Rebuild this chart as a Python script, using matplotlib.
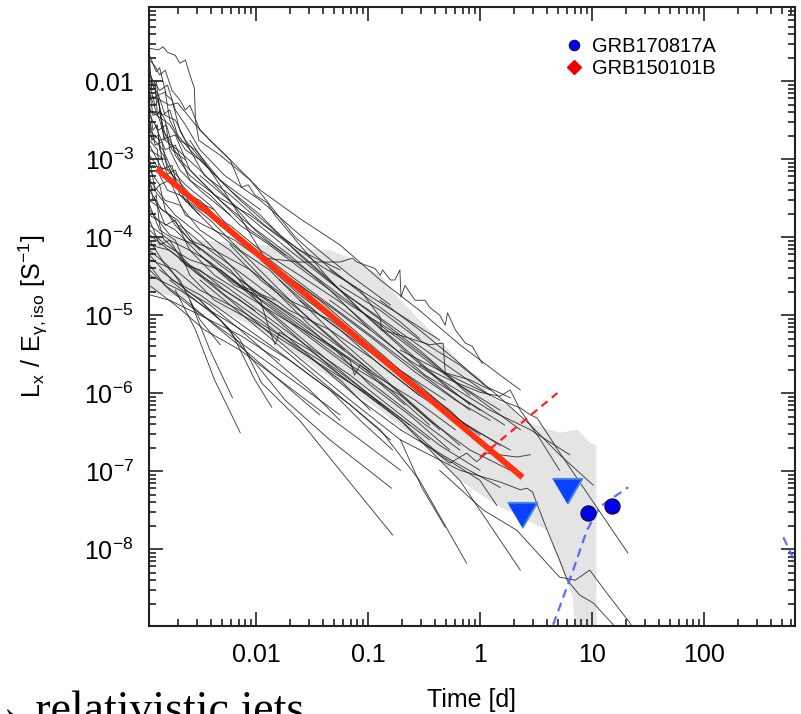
import matplotlib.pyplot as plt
from matplotlib.lines import Line2D
from matplotlib.ticker import LogLocator, NullFormatter
import numpy as np

plt.rcParams["font.family"] = ["Liberation Sans", "DejaVu Sans"]
plt.rcParams["mathtext.default"] = "regular"

# X-ray afterglows of the short GRB sample, (log10 t[d], log10 Lx/Eiso)
lc01 = [(-2.59, -2.76), (-2.23, -3.53), (-1.92, -4.27), (-1.61, -4.32), (-1.25, -4.32),
        (-1.14, -4.27), (-1.10, -4.32), (-0.94, -4.40), (-0.89, -4.49), (-0.87, -4.42),
        (-0.80, -4.55), (-0.76, -4.55), (-0.715, -4.42), (-0.705, -4.77), (-0.67, -4.62),
        (-0.58, -4.81), (-0.49, -4.81), (-0.45, -4.90), (-0.36, -5.00), (-0.31, -5.13),
        (-0.29, -4.97), (-0.22, -5.19), (-0.13, -5.36), (-0.07, -5.40), (0.02, -5.62)]
lc02 = [(-2.95, -1.58), (-2.87, -1.60), (-2.83, -1.56), (-2.79, -1.63), (-2.72, -1.67),
        (-2.68, -1.77), (-2.63, -1.73), (-2.59, -1.92), (-2.55, -2.09), (-2.54, -2.50),
        (-2.51, -2.76), (-2.32, -2.95), (-2.05, -3.27), (-1.65, -4.00), (-1.34, -4.40),
        (-0.98, -4.81), (-0.71, -5.09), (-0.54, -5.30)]
lc03 = [(-2.95, -1.73), (-2.90, -1.81), (-2.86, -1.92), (-2.81, -1.86), (-2.75, -2.12),
        (-2.68, -2.24), (-2.63, -2.37), (-2.59, -2.31), (-2.50, -2.63), (-2.23, -3.01),
        (-1.96, -3.40), (-1.61, -3.76), (-1.25, -4.10), (-0.89, -4.55), (-0.54, -4.94),
        (-0.18, -5.38), (0.18, -5.77), (0.36, -5.96)]
lc04 = [(-2.95, -2.18), (-2.86, -2.24), (-2.77, -2.31), (-2.70, -2.28), (-2.63, -2.40),
        (-2.54, -2.56), (-2.41, -2.76), (-2.23, -3.01), (-2.13, -3.36), (-2.07, -3.33),
        (-2.01, -3.46), (-1.90, -3.56), (-1.83, -3.72), (-1.61, -4.10), (-1.34, -4.55),
        (-1.07, -4.94), (-0.71, -5.38), (-0.36, -5.83), (-0.09, -6.15)]
lc05 = [(-2.95, -1.86), (-2.92, -2.05), (-2.89, -1.99), (-2.86, -2.37), (-2.81, -2.50),
        (-2.77, -2.88), (-2.68, -3.14), (-2.50, -3.40), (-2.23, -3.72)]
lc06 = [(-2.95, -2.50), (-2.93, -2.76), (-2.87, -2.69), (-2.84, -3.01), (-2.77, -3.27)]
lc07 = [(-2.95, -2.05), (-2.90, -2.31), (-2.87, -2.24), (-2.83, -2.63), (-2.77, -2.76),
        (-2.68, -3.01), (-2.54, -3.21), (-2.32, -3.53), (-2.05, -3.85), (-1.70, -4.23),
        (-1.34, -4.68), (-0.98, -5.19)]
lc08 = [(-2.95, -3.01), (-2.90, -3.40), (-2.86, -3.33), (-2.81, -3.65), (-2.72, -3.85),
        (-2.50, -4.17)]
lc09 = [(-2.95, -2.76), (-2.88, -2.88), (-2.86, -3.21), (-2.79, -3.40), (-2.68, -3.46),
        (-2.50, -3.72)]
lc10 = [(-2.95, -2.37), (-2.77, -2.56), (-2.63, -2.88), (-2.50, -3.01), (-2.23, -3.40),
        (-1.96, -3.72), (-1.61, -4.23), (-1.25, -4.68), (-0.89, -5.06), (-0.54, -5.45),
        (-0.18, -5.90), (0.18, -6.22)]
lc11 = [(-2.95, -2.63), (-2.86, -2.76), (-2.72, -2.69), (-2.59, -3.14), (-2.32, -3.53),
        (-2.05, -3.91), (-1.79, -4.17), (-1.43, -4.55), (-1.07, -4.94), (-0.71, -5.32),
        (-0.36, -5.71), (0.00, -6.09), (0.36, -6.47)]
lc12 = [(-2.95, -2.88), (-2.81, -3.01), (-2.68, -3.40), (-2.50, -3.53), (-2.23, -3.91),
        (-1.88, -4.29), (-1.52, -4.68), (-1.16, -5.06), (-0.80, -5.45), (-0.45, -5.83),
        (-0.09, -6.22)]
lc13 = [(-2.93, -3.08), (-2.77, -3.14), (-2.63, -3.53), (-2.41, -3.78), (-2.14, -4.17),
        (-1.88, -4.42), (-1.61, -4.81), (-1.25, -5.19), (-0.89, -5.64), (-0.54, -6.03)]
lc14 = [(-2.95, -3.27), (-2.81, -3.53), (-2.68, -3.59), (-2.50, -3.91), (-2.23, -4.17),
        (-1.96, -4.55), (-1.61, -4.94), (-1.25, -5.38), (-0.98, -5.71)]
lc15 = [(-2.95, -3.53), (-2.77, -3.72), (-2.59, -4.04), (-2.37, -4.17), (-2.05, -4.42),
        (-1.70, -4.81), (-1.34, -5.06), (-0.98, -5.45), (-0.63, -5.83), (-0.27, -6.22),
        (0.00, -6.60)]
lc16 = [(-2.95, -3.72), (-2.72, -3.91), (-2.50, -4.23), (-2.23, -4.55), (-1.88, -4.87),
        (-1.52, -5.26), (-1.16, -5.64), (-0.71, -6.03), (-0.36, -6.47)]
lc17 = [(-2.95, -3.91), (-2.81, -4.10), (-2.59, -4.29), (-2.32, -4.42), (-1.96, -4.81),
        (-1.61, -5.19), (-1.25, -5.58), (-0.89, -5.96), (-0.54, -6.35), (-0.18, -6.73)]
lc18 = [(-2.95, -4.10), (-2.77, -4.17), (-2.54, -4.42), (-2.28, -4.74), (-1.96, -5.06),
        (-1.61, -5.45), (-1.25, -5.83), (-0.98, -6.22)]
lc19 = [(-2.95, -4.29), (-2.72, -4.42), (-2.50, -4.68), (-2.14, -4.94), (-1.79, -5.26),
        (-1.43, -5.58), (-1.07, -5.96), (-0.71, -6.35), (-0.36, -6.79), (0.00, -7.12),
        (0.15, -7.44)]
lc20 = [(-2.95, -4.49), (-2.68, -4.68), (-2.41, -4.94), (-2.05, -5.26), (-1.70, -5.58),
        (-1.34, -5.96), (-1.07, -6.35), (-0.78, -6.73)]
lc21 = [(-2.95, -4.74), (-2.77, -4.81), (-2.50, -5.00), (-2.14, -5.26), (-1.79, -5.58)]
lc22 = [(-2.72, -4.68), (-2.54, -5.19), (-2.37, -5.83), (-2.14, -6.51)]
lc23 = [(-2.59, -4.81), (-2.41, -5.45), (-2.21, -6.06)]
lc24 = [(-2.50, -4.81), (-2.23, -5.19), (-2.01, -5.83), (-1.86, -6.18)]
lc25 = [(-2.86, -4.42), (-2.50, -4.81), (-2.14, -5.32), (-1.95, -5.87), (-1.61, -6.35),
        (-1.25, -6.99), (-0.78, -7.82)]
lc26 = [(-2.77, -4.55), (-2.32, -5.06), (-1.74, -6.09), (-1.34, -6.60), (-0.79, -7.22)]
lc27 = [(-2.68, -4.29), (-2.23, -4.81), (-1.70, -5.45), (-1.16, -6.09), (-0.71, -6.60),
        (-0.52, -7.21), (-0.31, -7.72)]
lc28 = [(-2.50, -4.55), (-1.96, -5.19), (-1.43, -5.83), (-0.89, -6.47), (-0.54, -7.12),
        (-0.12, -8.18)]
lc29 = [(-2.32, -4.42), (-1.79, -5.06), (-1.25, -5.71), (-0.71, -6.35), (-0.18, -7.12),
        (0.36, -8.27)]
lc30 = [(-0.89, -4.81), (-0.54, -5.19), (-0.18, -5.62), (0.18, -6.06), (0.45, -6.41),
        (0.71, -6.79), (1.01, -7.18)]
lc31 = [(-0.71, -5.45), (-0.36, -5.71), (-0.09, -5.90), (0.18, -6.09), (0.36, -6.19),
        (0.45, -6.28), (0.51, -6.32), (0.71, -6.76), (0.96, -7.29), (1.32, -8.05)]
lc32 = [(-0.54, -5.64), (-0.27, -5.83), (0.00, -5.99), (0.18, -6.04), (0.27, -5.96),
        (0.36, -6.22), (0.54, -6.60), (0.71, -6.99)]
lc33 = [(-0.54, -6.60), (-0.27, -6.90), (-0.12, -6.77), (-0.03, -6.88), (0.06, -6.77),
        (0.33, -6.82), (0.45, -6.79)]
lc34 = [(-0.71, -6.60), (-0.18, -6.99), (0.18, -7.14), (0.36, -7.24), (0.42, -7.22),
        (0.47, -7.27), (0.49, -7.35), (0.60, -7.76), (0.71, -8.14), (0.78, -8.40),
        (0.89, -8.59), (1.01, -8.69), (1.19, -8.97), (1.25, -9.10)]
lc35 = [(-0.36, -6.99), (0.03, -7.50), (0.33, -7.76), (0.71, -8.36), (0.85, -8.40),
        (0.98, -8.27), (1.13, -8.56), (1.34, -8.95), (1.43, -9.17)]
lc36 = [(-0.71, -6.47), (-0.21, -6.90), (0.18, -7.21)]
lc37 = [(-1.34, -4.42), (-1.07, -4.68), (-0.89, -5.03), (-0.88, -5.19), (-0.71, -5.26),
        (-0.45, -5.38), (-0.33, -5.36), (-0.31, -5.74), (-0.09, -5.83), (0.09, -5.96)]
lc38 = [(-1.25, -4.62), (-0.89, -4.94), (-0.54, -5.32), (-0.18, -5.64), (0.06, -5.92),
        (0.27, -6.06)]
lc39 = [(-2.95, -3.33), (-2.72, -3.72), (-2.50, -3.97), (-2.23, -4.36), (-1.96, -4.81),
        (-1.88, -5.19), (-1.83, -5.38), (-1.79, -5.22), (-1.52, -5.45), (-1.16, -5.83),
        (-0.80, -6.22), (-0.45, -6.60)]
lc40 = [(-2.90, -2.56), (-2.81, -2.88), (-2.72, -2.82), (-2.59, -3.27), (-2.41, -3.46),
        (-2.14, -3.85), (-1.88, -4.10), (-1.52, -4.49), (-1.16, -4.87), (-0.80, -5.19),
        (-0.45, -5.58), (-0.09, -6.03)]
lc41 = [(-2.95, -2.24), (-2.87, -2.18), (-2.81, -2.44), (-2.72, -2.50), (-2.63, -2.76),
        (-2.41, -3.14), (-2.14, -3.53), (-1.79, -3.97), (-1.43, -4.36), (-1.07, -4.68),
        (-0.71, -5.00), (-0.36, -5.32)]
lc42 = [(-2.95, -4.04), (-2.81, -4.36), (-2.68, -4.55), (-2.50, -5.06), (-2.32, -5.38)]
lc43 = [(-2.95, -3.59), (-2.86, -3.91), (-2.72, -4.04), (-2.59, -4.49), (-2.37, -4.81),
        (-2.05, -5.06), (-1.70, -5.38), (-1.34, -5.71), (-0.98, -6.03), (-0.63, -6.41)]
lc44 = [(-2.95, -3.14), (-2.86, -3.33), (-2.77, -3.27), (-2.63, -3.72), (-2.46, -3.85),
        (-2.19, -4.04), (-1.92, -4.32), (-1.61, -4.62), (-1.29, -4.94), (-0.94, -5.32),
        (-0.58, -5.73), (-0.22, -6.09), (0.09, -6.35)]
lc45 = [(-2.95, -1.92), (-2.86, -2.12), (-2.79, -2.05), (-2.72, -2.37), (-2.63, -2.56),
        (-2.50, -2.88), (-2.28, -3.21), (-1.96, -3.53), (-1.61, -3.97), (-1.16, -4.49),
        (-0.80, -4.87)]
lc46 = [(-2.95, -2.44), (-2.87, -2.63), (-2.80, -2.56), (-2.72, -2.95), (-2.59, -3.21),
        (-2.37, -3.46), (-2.05, -3.72), (-1.70, -4.10), (-1.34, -4.55), (-0.98, -5.06),
        (-0.63, -5.51), (-0.27, -5.96), (0.00, -6.22)]
lc47 = [(-2.95, -2.69), (-2.83, -2.88), (-2.75, -3.14), (-2.63, -3.33), (-2.41, -3.59),
        (-2.14, -4.04), (-1.79, -4.42), (-1.43, -4.81), (-1.07, -5.26), (-0.71, -5.71),
        (-0.31, -6.09)]
lc48 = [(-2.95, -2.95), (-2.86, -3.14), (-2.75, -3.08), (-2.68, -3.46), (-2.50, -3.65),
        (-2.23, -3.85), (-1.96, -4.17), (-1.61, -4.49), (-1.21, -4.87), (-0.85, -5.32),
        (-0.49, -5.77), (-0.13, -6.09), (0.22, -6.41)]
lc49 = [(-2.95, -3.40), (-2.84, -3.65), (-2.70, -3.78), (-2.54, -4.10), (-2.32, -4.36),
        (-2.01, -4.68), (-1.70, -5.00), (-1.34, -5.38), (-0.98, -5.77), (-0.67, -6.15)]
lc50 = [(-2.95, -3.85), (-2.77, -4.04), (-2.59, -4.17), (-2.37, -4.49), (-2.10, -4.74),
        (-1.74, -5.06), (-1.34, -5.38), (-0.94, -5.77), (-0.58, -6.09), (-0.22, -6.47)]
lc51 = [(-2.95, -4.17), (-2.79, -4.36), (-2.63, -4.68), (-2.41, -4.87), (-2.14, -5.19),
        (-1.83, -5.58), (-1.52, -5.96), (-1.25, -6.35)]
lc52 = [(-2.95, -4.36), (-2.81, -4.62), (-2.63, -4.81), (-2.37, -5.13), (-2.05, -5.51),
        (-1.74, -5.90), (-1.43, -6.28)]
lc53 = [(-2.90, -2.12), (-2.84, -2.44), (-2.77, -2.37), (-2.70, -2.69), (-2.59, -2.88),
        (-2.46, -3.21), (-2.23, -3.46), (-1.92, -3.85), (-1.61, -4.17), (-1.25, -4.42)]
lc54 = [(-2.95, -1.67), (-2.89, -1.88), (-2.86, -1.83), (-2.80, -2.18), (-2.75, -2.24),
        (-2.68, -2.63), (-2.59, -2.88), (-2.41, -3.14)]
lc55 = [(-2.95, -1.99), (-2.87, -2.18), (-2.81, -2.14), (-2.77, -2.50), (-2.68, -2.76),
        (-2.54, -2.88), (-2.32, -3.27), (-1.96, -3.65)]
lc56 = [(-1.96, -4.29), (-1.61, -4.74), (-1.25, -5.13), (-0.89, -5.51), (-0.54, -5.90),
        (-0.18, -6.35), (0.18, -6.67)]
lc57 = [(-1.79, -4.55), (-1.43, -5.00), (-1.07, -5.38), (-0.71, -5.77), (-0.36, -6.15),
        (0.00, -6.54)]
lc58 = [(-1.61, -4.81), (-1.25, -5.32), (-0.89, -5.77), (-0.54, -6.22), (-0.18, -6.67)]
lc59 = [(-2.23, -4.10), (-1.88, -4.62), (-1.52, -5.13), (-1.16, -5.51), (-0.80, -5.90),
        (-0.45, -6.35), (-0.09, -6.73), (0.27, -6.99)]
lc60 = [(-2.50, -3.21), (-2.14, -3.65), (-1.70, -4.17), (-1.25, -4.68), (-0.80, -5.13),
        (-0.36, -5.58), (0.09, -6.03)]
lc61 = [(-2.95, -2.82), (-2.81, -3.21), (-2.72, -3.14), (-2.59, -3.59), (-2.37, -3.91),
        (-2.10, -4.23), (-1.83, -4.62), (-1.52, -5.06), (-1.21, -5.45)]
lc62 = [(-2.95, -3.65), (-2.77, -3.97), (-2.54, -4.10), (-2.23, -4.42), (-1.96, -4.87),
        (-1.61, -5.32), (-1.25, -5.77), (-0.89, -6.15)]
lc63 = [(-2.93, -2.24), (-2.86, -2.50), (-2.81, -2.76), (-2.70, -2.88), (-2.50, -3.14),
        (-2.28, -3.46), (-2.01, -3.91), (-1.74, -4.23)]
lc64 = [(-1.34, -4.81), (-0.98, -5.19), (-0.63, -5.58), (-0.27, -5.90), (0.09, -6.22),
        (0.45, -6.47), (0.80, -6.79)]
lc65 = [(-2.95, -1.73), (-2.93, -2.12), (-2.90, -2.05), (-2.88, -2.44), (-2.86, -2.37),
        (-2.82, -2.76)]
lc66 = [(-2.95, -3.21), (-2.92, -3.53), (-2.89, -3.46), (-2.86, -3.85), (-2.82, -4.04)]
lc67 = [(-2.95, -2.31), (-2.92, -2.63), (-2.88, -2.56), (-2.86, -2.88), (-2.80, -3.01)]
lc68 = [(-2.95, -3.97), (-2.72, -4.23), (-2.50, -4.49), (-2.14, -4.81), (-1.79, -5.19),
        (-1.43, -5.64), (-1.07, -6.09), (-0.71, -6.47)]
lc69 = [(-2.95, -4.23), (-2.75, -4.55), (-2.50, -4.74), (-2.19, -5.06), (-1.88, -5.38),
        (-1.52, -5.77), (-1.16, -6.15), (-0.80, -6.60)]
lc70 = [(-2.95, -4.42), (-2.77, -4.68), (-2.54, -4.94), (-2.23, -5.26), (-1.92, -5.58),
        (-1.61, -5.90), (-1.25, -6.28)]
lc71 = [(-2.95, -4.62), (-2.72, -4.87), (-2.46, -5.19), (-2.14, -5.45), (-1.79, -5.83),
        (-1.43, -6.22), (-1.07, -6.60), (-0.71, -6.99)]
lc72 = [(-2.81, -4.04), (-2.59, -4.36), (-2.28, -4.62), (-1.92, -5.00), (-1.56, -5.38),
        (-1.16, -5.77), (-0.76, -6.22), (-0.36, -6.67), (0.00, -6.99)]
lc73 = [(-2.68, -3.85), (-2.41, -4.17), (-2.05, -4.55), (-1.70, -4.94), (-1.34, -5.19),
        (-0.94, -5.58), (-0.54, -6.03), (-0.13, -6.41), (0.27, -6.73)]
lc74 = [(-2.95, -3.78), (-2.86, -4.10), (-2.77, -4.04), (-2.63, -4.36), (-2.50, -4.42),
        (-2.28, -4.68), (-2.01, -4.94)]
lc75 = [(-2.50, -4.23), (-2.19, -4.62), (-1.88, -4.81), (-1.61, -5.06), (-1.29, -5.45),
        (-0.98, -5.90), (-0.63, -6.28), (-0.27, -6.73)]
lc76 = [(-2.14, -4.55), (-1.79, -4.94), (-1.43, -5.32), (-1.16, -5.58), (-1.12, -5.77),
        (-1.07, -5.64), (-0.80, -5.96), (-0.45, -6.41)]
lc77 = [(-2.90, -3.53), (-2.81, -3.85), (-2.72, -3.78), (-2.59, -4.17), (-2.41, -4.32),
        (-2.14, -4.62), (-1.83, -4.81)]
lc78 = [(-2.95, -2.50), (-2.90, -2.82), (-2.84, -2.78), (-2.79, -3.14), (-2.70, -3.27),
        (-2.54, -3.53), (-2.37, -3.65)]
lc79 = [(-2.95, -2.12), (-2.92, -2.44), (-2.86, -2.40), (-2.81, -2.69), (-2.75, -2.88),
        (-2.63, -3.01)]

afterglows = [lc01, lc02, lc03, lc04, lc05, lc06, lc07, lc08, lc09, lc10, lc11,
              lc12, lc13, lc14, lc15, lc16, lc17, lc18, lc19, lc20, lc21, lc22,
              lc23, lc24, lc25, lc26, lc27, lc28, lc29, lc30, lc31, lc32, lc33,
              lc34, lc35, lc36, lc37, lc38, lc39, lc40, lc41, lc42, lc43, lc44,
              lc45, lc46, lc47, lc48, lc49, lc50, lc51, lc52, lc53, lc54, lc55,
              lc56, lc57, lc58, lc59, lc60, lc61, lc62, lc63, lc64, lc65, lc66,
              lc67, lc68, lc69, lc70, lc71, lc72, lc73, lc74, lc75, lc76, lc77,
              lc78, lc79]

# spread of the sample (upper and lower edge), log10 units
band_hi = [(-2.96, -3.97), (-2.50, -4.04), (-1.96, -4.10), (-1.34, -4.17), (-1.16, -4.27),
           (-0.89, -4.49), (-0.71, -4.81), (-0.54, -5.06), (-0.36, -5.32), (-0.18, -5.60),
           (-0.12, -5.71), (0.00, -5.79), (0.09, -6.05), (0.27, -6.18), (0.38, -6.35),
           (0.71, -6.51), (0.87, -6.47), (0.98, -6.64), (1.04, -6.67), (1.04, -9.2)]
band_lo = [(-2.96, -4.71), (-2.50, -4.81), (-1.96, -5.19), (-1.43, -5.71), (-0.89, -6.22),
           (-0.45, -6.73), (-0.18, -7.12), (0.15, -7.44), (0.60, -7.76), (0.71, -8.18),
           (0.83, -8.62), (0.86, -9.2)]

# power-law fit to the sample
fit_t = [1.3e-3, 2.4]
fit_L = [7.5e-4, 8.3e-8]

# GRB150101B rising component and GRB170817A off-axis jet model
red_model_t = [1.0, 4.9]
red_model_L = [1.5e-7, 1.0e-6]
blue_model_t = [4.5, 6.8, 9.0, 11.8, 21.0]
blue_model_L = [1.07e-9, 5.4e-9, 1.74e-8, 3.5e-8, 6.2e-8]
blue_late_t = [510.0, 650.0, 720.0]
blue_late_L = [1.42e-8, 6.8e-9, 4.9e-9]

# GRB170817A: upper limits and detections
ul_t = [2.37, 5.98]
ul_L = [2.7e-8, 5.5e-8]
det_t = [9.2, 15.1]
det_L = [2.9e-8, 3.55e-8]

xtick_vals = [0.01, 0.1, 1, 10, 100]
xtick_labels = ["0.01", "0.1", "1", "10", "100"]
ytick_vals = [1e-2, 1e-3, 1e-4, 1e-5, 1e-6, 1e-7, 1e-8]
ytick_labels = ["0.01", "$10^{-3}$", "$10^{-4}$", "$10^{-5}$", "$10^{-6}$",
                "$10^{-7}$", "$10^{-8}$"]

fig = plt.figure(figsize=(8.01, 7.14), dpi=100)
ax = fig.add_axes([0.186, 0.1232, 0.8065, 0.8669])
ax.set_xscale("log")
ax.set_yscale("log")

band = np.array(band_hi + band_lo[::-1])
ax.fill(10 ** band[:, 0], 10 ** band[:, 1], color="#e4e4e4", lw=0, zorder=1)

for lc in afterglows:
    a = np.array(lc)
    ax.plot(10 ** a[:, 0], 10 ** a[:, 1], color="#1e1e1e", lw=0.65, alpha=0.85, zorder=2)

ax.plot(fit_t, fit_L, color="#ff3311", lw=4.3, solid_capstyle="butt", zorder=4)
ax.plot(red_model_t, red_model_L, color="#ff2020", lw=1.6, ls=(0, (3.5, 2.5)), zorder=4)
ax.plot(blue_model_t, blue_model_L, color="#4455ff", lw=1.6, ls=(0, (4, 2.5)), alpha=0.85, zorder=4)
ax.plot(blue_late_t, blue_late_L, color="#4455ff", lw=1.6, ls=(0, (4, 2.5)), alpha=0.85, zorder=4)

tri = [(-1, 0.85), (1, 0.85), (0, -0.85)]
ax.plot(ul_t, ul_L, ls="none", marker=tri, ms=21.5, mfc="#0a40ff", mec="#4a8ad8", mew=1.3, zorder=5)
ax.plot(det_t, det_L, ls="none", marker="o", ms=10.8, mfc="#0000ee", mec="#10103a", mew=1.0, zorder=5)

ax.set_xlim(1.109e-3, 649)
ax.set_ylim(1.03e-9, 0.089)

ax.set_xticks(xtick_vals)
ax.set_xticklabels(xtick_labels)
ax.set_yticks(ytick_vals)
ax.set_yticklabels(ytick_labels)
for axis in (ax.xaxis, ax.yaxis):
    axis.set_minor_locator(LogLocator(base=10, subs=np.arange(2, 10), numticks=30))
    axis.set_minor_formatter(NullFormatter())

ax.tick_params(which="both", direction="in", top=True, right=True, width=1.2, color="#222222")
ax.tick_params(which="major", length=10)
ax.tick_params(which="minor", length=5)
ax.tick_params(axis="x", labelsize=18, pad=12)
ax.tick_params(axis="y", labelsize=18, pad=11)
for s in ax.spines.values():
    s.set_linewidth(1.5)
    s.set_color("#222222")

ax.set_xlabel("Time [d]", fontsize=18)
ax.xaxis.set_label_coords(0.5, -0.100)
ax.set_ylabel(r"$L_x\ /\ E_{γ,iso}\ [S^{-1}]$", fontsize=18)
ax.yaxis.set_label_coords(-0.153, 0.5)

handles = [
    Line2D([], [], ls="none", marker="o", ms=7.5, mfc="#0000ee", mec="#10103a", mew=0.8),
    Line2D([], [], ls="none", marker="D", ms=7.5, mfc="#ee0000", mec="#ee0000"),
]
ax.legend(handles, ["GRB170817A", "GRB150101B"], loc="upper left",
          bbox_to_anchor=(566 / 801, 1 - 37 / 714), bbox_transform=fig.transFigure,
          frameon=False, fontsize=14.5, handlelength=0.8, handletextpad=0.5,
          labelspacing=0.15, borderpad=0, borderaxespad=0)

fig.text(-22 / 801, -0.012, "→ relativistic jets", fontsize=33, va="baseline",
         family=["Liberation Serif", "DejaVu Serif"])

fig.savefig("out.png", dpi=100)
